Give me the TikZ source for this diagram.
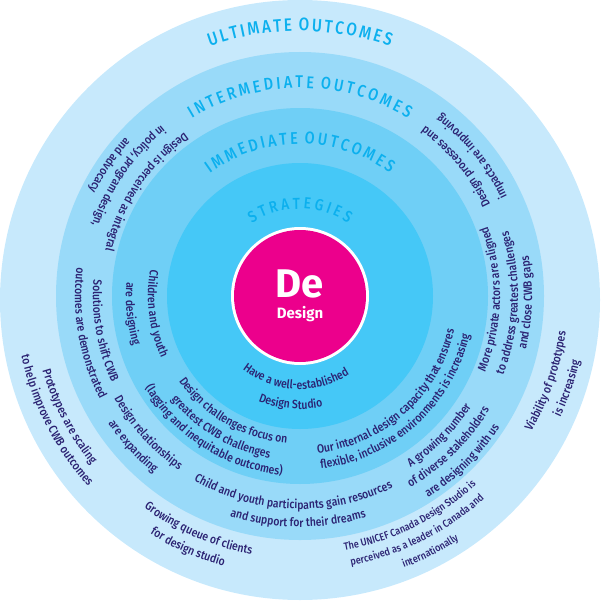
\documentclass[tikz,border=0pt]{standalone}
\usepackage{fontspec}
\setmainfont{Fira Sans}
\newfontfamily\narrowfont[FakeStretch=0.87]{Fira Sans Medium}
\newfontfamily\headfont[FakeStretch=0.85]{Fira Sans Medium}
\newfontfamily\bigfont{Fira Sans Bold}
\usetikzlibrary{decorations.text}
\definecolor{ringA}{HTML}{C7E9FC}
\definecolor{ringB}{HTML}{99DAF9}
\definecolor{ringC}{HTML}{6FCFF6}
\definecolor{ringD}{HTML}{45C8F7}
\definecolor{pinkc}{HTML}{EC008C}
\definecolor{darkt}{HTML}{2B2272}
\definecolor{headt}{HTML}{0CB0EE}
% dark label on an arc: tops towards the centre, read counter-clockwise
\newcommand\inarc[4][12]{%
  \path[decorate,decoration={text along path,text align=center,
    text={|\narrowfont\fontsize{#1}{#1}\selectfont\color{darkt}|#4}}]
    (ctr) ++({#3-70}:#2) arc[start angle={#3-70},end angle={#3+70},radius=#2];}
% heading on an arc: tops outward, read clockwise
\newcommand\outarc[4]{%
  \path[decorate,decoration={text along path,text align=center,
    text={|\headfont\fontsize{#1}{#1}\selectfont\color{headt}|#4}}]
    (ctr) ++({90+#3}:#2) arc[start angle={90+#3},end angle={90-#3},radius=#2];}
\begin{document}
\begin{tikzpicture}[x=1pt,y=1pt]
\useasboundingbox (0,0) rectangle (600,-602);
\coordinate (ctr) at (300,-296);
\fill[ringA] (300,-300) circle[radius=300];
\fill[ringB] (ctr) circle[radius=244];
\fill[ringC] (ctr) circle[radius=188];
\fill[ringD] (ctr) circle[radius=133];
\fill[white] (ctr) circle[radius=69];
\fill[pinkc] (ctr) circle[radius=66];
\node[text=white,font={\bigfont\fontsize{40}{40}\selectfont}] (de) at (300,-284) {De};
\node[text=white,font={\bigfont\fontsize{15}{15}\selectfont}] (dn) at (300,-314) {Design};
\outarc{18}{265}{85}{{U\kern2.4pt}{L\kern2.4pt}{T\kern2.4pt}{I\kern2.4pt}{M\kern2.4pt}{A\kern2.4pt}{T\kern2.4pt}{E\kern2.4pt} {O\kern2.4pt}{U\kern2.4pt}{T\kern2.4pt}{C\kern2.4pt}{O\kern2.4pt}{M\kern2.4pt}{E\kern2.4pt}{S}}
\outarc{17}{208}{85}{{I\kern3pt}{N\kern3pt}{T\kern3pt}{E\kern3pt}{R\kern3pt}{M\kern3pt}{E\kern3pt}{D\kern3pt}{I\kern3pt}{A\kern3pt}{T\kern3pt}{E\kern3pt} {O\kern3pt}{U\kern3pt}{T\kern3pt}{C\kern3pt}{O\kern3pt}{M\kern3pt}{E\kern3pt}{S}}
\outarc{17}{152}{85}{{I\kern2.8pt}{M\kern2.8pt}{M\kern2.8pt}{E\kern2.8pt}{D\kern2.8pt}{I\kern2.8pt}{A\kern2.8pt}{T\kern2.8pt}{E\kern2.8pt} {O\kern2.8pt}{U\kern2.8pt}{T\kern2.8pt}{C\kern2.8pt}{O\kern2.8pt}{M\kern2.8pt}{E\kern2.8pt}{S}}
\outarc{16}{87}{85}{{S\kern3.2pt}{T\kern3.2pt}{R\kern3.2pt}{A\kern3.2pt}{T\kern3.2pt}{E\kern3.2pt}{G\kern3.2pt}{I\kern3.2pt}{E\kern3.2pt}{S}}
\inarc{93}{267}{Have a well-established}
\inarc{113}{265}{Design Studio}
\inarc{148}{240}{Design challenges focus on}
\inarc{165}{239}{greatest CWB challenges}
\inarc{180}{237.5}{(lagging and inequitable outcomes)}
\inarc{158}{312}{Our internal design capacity that ensures}
\inarc{174}{312}{flexible, inclusive environments is increasing}
\inarc{152}{187}{Children and youth}
\inarc{174}{186}{are designing}
\inarc{200}{146}{Design is perceived as integral}
\inarc{220}{145}{in policy, program design,}
\inarc{236}{145.6}{and advocacy}
\inarc{207}{190}{Solutions to shift CWB}
\inarc{225}{190}{outcomes are demonstrated}
\inarc{212}{222}{Design relationships}
\inarc{230}{222}{are expanding}
\inarc{213}{268}{Child and youth participants gain resources}
\inarc{231}{269.5}{and support for their dreams}
\inarc{204}{315}{A growing number}
\inarc{221}{314.5}{of diverse stakeholders}
\inarc{239}{314.5}{are designing with us}
\inarc{200}{359}{More private actors are aligned}
\inarc{218}{358}{to address greatest challenges}
\inarc{232}{358.3}{and close CWB gaps}
\inarc{211}{39.6}{Design processes and}
\inarc{230}{39}{impacts are improving}
\inarc{268}{341}{Viability of prototypes}
\inarc{287}{341}{is increasing}
\inarc[10.5]{258}{296.5}{The UNICEF Canada Design Studio is}
\inarc[10.5]{274}{296.5}{perceived as a leader in Canada and}
\inarc[10.5]{291}{297}{internationally}
\inarc{263}{246.5}{Growing queue of clients}
\inarc{281}{246}{for design studio}
\inarc{268}{207.5}{Prototypes are scaling}
\inarc{285}{207}{to help improve CWB outcomes}
\end{tikzpicture}
\end{document}
